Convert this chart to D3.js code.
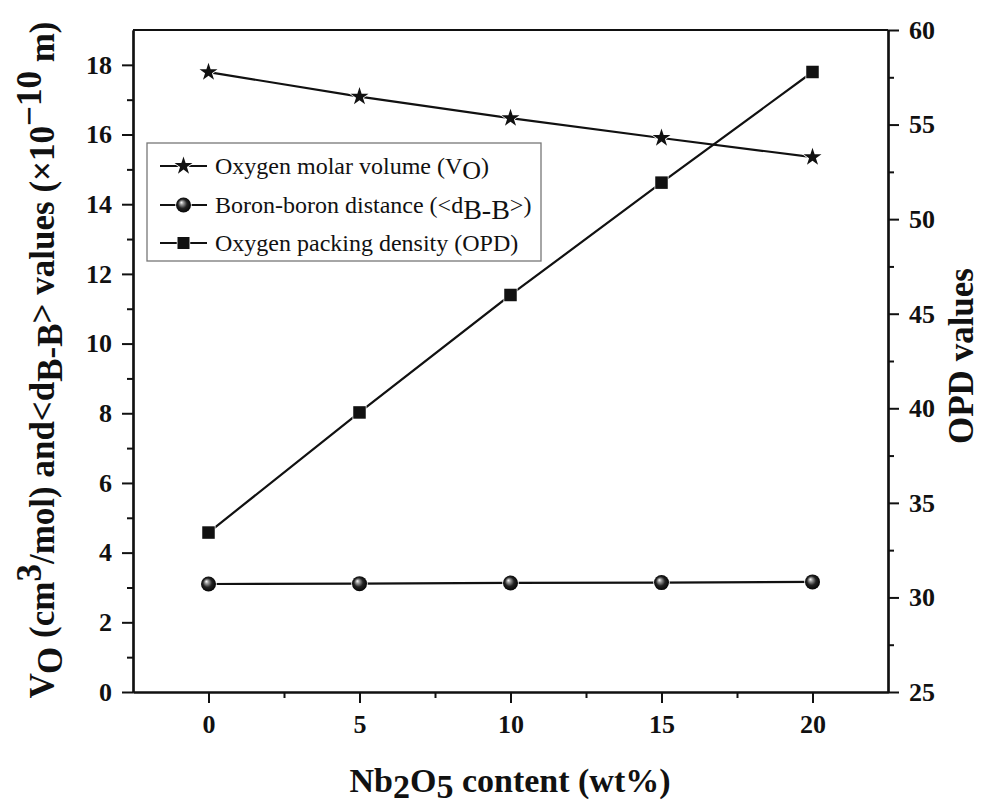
<!DOCTYPE html>
<html>
<head>
<meta charset="utf-8">
<script src="https://cdn.jsdelivr.net/npm/d3@7"></script>
<style>
  html, body { margin: 0; padding: 0; background: #fff; }
  svg { display: block; font-family: "Liberation Serif", "Times New Roman", serif; }
</style>
</head>
<body>
<svg id="chart" width="988" height="804"></svg>
<script>
// ---- data ----
const content = [0, 5, 10, 15, 20];                 // Nb2O5 wt%
const molarVolume = [17.79, 17.09, 16.47, 15.90, 15.35]; // Vo (cm3/mol)
const boronDist = [3.10, 3.11, 3.13, 3.14, 3.16];     // <dB-B> (x10^-10 m)
const opd = [33.43, 39.78, 45.99, 51.93, 57.78];     // OPD values

const xTicks = [0, 5, 10, 15, 20];
const xMinor = [2.5, 7.5, 12.5, 17.5];
const yLeftTicks = [0, 2, 4, 6, 8, 10, 12, 14, 16, 18];
const yLeftMinor = [1, 3, 5, 7, 9, 11, 13, 15, 17];
const yRightTicks = [25, 30, 35, 40, 45, 50, 55, 60];
const yRightMinor = [27.5, 32.5, 37.5, 42.5, 47.5, 52.5, 57.5];

// ---- layout ----
const L = 133, R = 888, T = 30, B = 692;
const svg = d3.select("#chart");

const x = d3.scaleLinear().domain([-2.5, 22.5]).range([L, R]);
const yL = d3.scaleLinear().domain([0, 19]).range([B, T]);
const yR = d3.scaleLinear().domain([25, 60]).range([B, T]);

// defs: sphere gradient
const defs = svg.append("defs");
const grad = defs.append("radialGradient").attr("id", "sphere")
  .attr("cx", "50%").attr("cy", "50%").attr("r", "55%")
  .attr("fx", "35%").attr("fy", "32%");
grad.append("stop").attr("offset", "0%").attr("stop-color", "#ffffff");
grad.append("stop").attr("offset", "22%").attr("stop-color", "#9a9a9a");
grad.append("stop").attr("offset", "55%").attr("stop-color", "#222");
grad.append("stop").attr("offset", "100%").attr("stop-color", "#000");

// ---- axes ----
function styleAxis(g) {
  g.selectAll("path.domain").attr("stroke", "#111").attr("stroke-width", 2.2);
  g.selectAll(".tick line").attr("stroke", "#111").attr("stroke-width", 2);
  g.selectAll(".tick text").attr("fill", "#111")
    .style("font-family", "'Liberation Serif', serif")
    .style("font-weight", "bold").style("font-size", "26px");
}

// bottom
svg.append("g").attr("transform", `translate(0,${B})`)
  .call(d3.axisBottom(x).tickValues(xMinor).tickSize(6).tickSizeOuter(0).tickFormat(""))
  .call(styleAxis);
svg.append("g").attr("transform", `translate(0,${B})`)
  .call(d3.axisBottom(x).tickValues(xTicks).tickSize(11).tickSizeOuter(0).tickPadding(12).tickFormat(d3.format("d")))
  .call(styleAxis);

// left
svg.append("g").attr("transform", `translate(${L},0)`)
  .call(d3.axisLeft(yL).tickValues(yLeftMinor).tickSize(6).tickSizeOuter(0).tickFormat(""))
  .call(styleAxis);
svg.append("g").attr("transform", `translate(${L},0)`)
  .call(d3.axisLeft(yL).tickValues(yLeftTicks).tickSize(11).tickSizeOuter(0).tickPadding(10).tickFormat(d3.format("d")))
  .call(styleAxis);

// right
svg.append("g").attr("transform", `translate(${R},0)`)
  .call(d3.axisRight(yR).tickValues(yRightMinor).tickSize(6).tickSizeOuter(0).tickFormat(""))
  .call(styleAxis);
svg.append("g").attr("transform", `translate(${R},0)`)
  .call(d3.axisRight(yR).tickValues(yRightTicks).tickSize(11).tickSizeOuter(0).tickPadding(10).tickFormat(d3.format("d")))
  .call(styleAxis);

// top border
svg.append("line").attr("x1", L).attr("x2", R).attr("y1", T).attr("y2", T)
  .attr("stroke", "#111").attr("stroke-width", 2.2);

// ---- series ----
const lineL = d3.line().x((d, i) => x(content[i])).y(d => yL(d));
const lineR = d3.line().x((d, i) => x(content[i])).y(d => yR(d));

svg.append("path").datum(molarVolume).attr("d", lineL)
  .attr("fill", "none").attr("stroke", "#111").attr("stroke-width", 2.2);
svg.append("path").datum(boronDist).attr("d", lineL)
  .attr("fill", "none").attr("stroke", "#111").attr("stroke-width", 2.2);
svg.append("path").datum(opd).attr("d", lineR)
  .attr("fill", "none").attr("stroke", "#111").attr("stroke-width", 2.2);

const star = d3.symbol().type(d3.symbolStar).size(100);
svg.append("g").selectAll("path").data(molarVolume).join("path")
  .attr("d", star)
  .attr("transform", (d, i) => `translate(${x(content[i])},${yL(d)})`)
  .attr("fill", "#111").attr("stroke", "#fff").attr("stroke-width", 1.5).attr("paint-order", "stroke");

svg.append("g").selectAll("circle").data(boronDist).join("circle")
  .attr("cx", (d, i) => x(content[i])).attr("cy", d => yL(d)).attr("r", 7.5)
  .attr("fill", "url(#sphere)").attr("stroke", "#fff").attr("stroke-width", 1.5).attr("paint-order", "stroke");

const sq = 12.5;
svg.append("g").selectAll("rect").data(opd).join("rect")
  .attr("x", (d, i) => x(content[i]) - sq / 2).attr("y", d => yR(d) - sq / 2)
  .attr("width", sq).attr("height", sq)
  .attr("fill", "#111").attr("stroke", "#fff").attr("stroke-width", 1.5).attr("paint-order", "stroke");

// ---- legend ----
const lg = svg.append("g");
lg.append("rect").attr("x", 147).attr("y", 143).attr("width", 394).attr("height", 118)
  .attr("fill", "#fff").attr("stroke", "#777").attr("stroke-width", 1.3);
const rows = [166, 205, 243];
rows.forEach((ry, k) => {
  lg.append("line").attr("x1", 160).attr("x2", 207).attr("y1", ry).attr("y2", ry)
    .attr("stroke", "#111").attr("stroke-width", 2.2);
  if (k === 0) {
    lg.append("path").attr("d", star).attr("transform", `translate(183.5,${ry})`)
      .attr("fill", "#111").attr("stroke", "#fff").attr("stroke-width", 1.5).attr("paint-order", "stroke");
  } else if (k === 1) {
    lg.append("circle").attr("cx", 183.5).attr("cy", ry).attr("r", 7.5)
      .attr("fill", "url(#sphere)").attr("stroke", "#fff").attr("stroke-width", 1.5).attr("paint-order", "stroke");
  } else {
    lg.append("rect").attr("x", 183.5 - 6).attr("y", ry - 6).attr("width", 12).attr("height", 12)
      .attr("fill", "#111").attr("stroke", "#fff").attr("stroke-width", 1.5).attr("paint-order", "stroke");
  }
});
const legText = (ry) => lg.append("text").attr("x", 215).attr("y", ry + 8)
  .attr("fill", "#111").style("font-size", "24px");
let t0 = legText(rows[0]);
t0.append("tspan").text("Oxygen molar volume (V");
t0.append("tspan").attr("dy", 5).style("font-size", "26px").text("O");
t0.append("tspan").attr("dy", -5).text(")");
let t1 = legText(rows[1]);
t1.append("tspan").text("Boron-boron distance (<d");
t1.append("tspan").attr("dy", 6).style("font-size", "28px").text("B-B");
t1.append("tspan").attr("dy", -6).text(">)");
let t2 = legText(rows[2]);
t2.append("tspan").text("Oxygen packing density (OPD)");

// ---- axis titles ----
const xt = svg.append("text").attr("x", 510).attr("y", 792).attr("text-anchor", "middle")
  .attr("fill", "#111").style("font-weight", "bold").style("font-size", "34px");
xt.append("tspan").text("Nb");
xt.append("tspan").attr("dy", 6).text("2");
xt.append("tspan").attr("dy", -6).text("O");
xt.append("tspan").attr("dy", 6).text("5");
xt.append("tspan").attr("dy", -6).text(" content (wt%)");

const yt = svg.append("text").attr("transform", "translate(54,360) rotate(-90)")
  .attr("text-anchor", "middle").attr("fill", "#111")
  .style("font-weight", "bold").style("font-size", "35px");
yt.append("tspan").text("V");
yt.append("tspan").attr("dy", 8).text("O");
yt.append("tspan").attr("dy", -8).text(" (cm");
yt.append("tspan").attr("dy", -13).text("3");
yt.append("tspan").attr("dy", 13).text("/mol) and<d");
yt.append("tspan").attr("dy", 8).text("B-B");
yt.append("tspan").attr("dy", -8).text("> values (×10");
yt.append("tspan").attr("dy", -13).text("−10");
yt.append("tspan").attr("dy", 13).text(" m)");

svg.append("text").attr("transform", "translate(973,356) rotate(-90)")
  .attr("text-anchor", "middle").attr("fill", "#111")
  .style("font-weight", "bold").style("font-size", "35px").text("OPD values");
</script>
</body>
</html>
